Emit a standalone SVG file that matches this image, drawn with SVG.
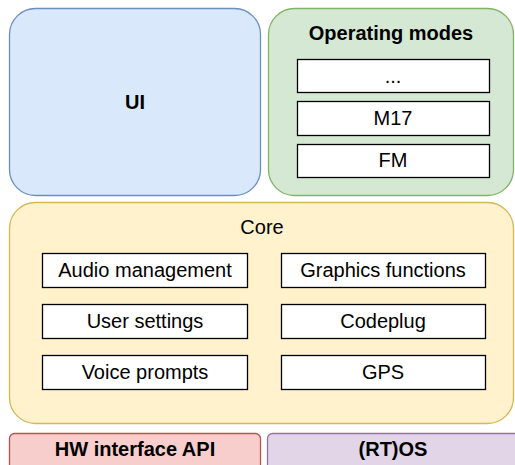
<svg xmlns="http://www.w3.org/2000/svg" width="515" height="465" viewBox="0 0 515 465">
<style>
text{font-family:"Liberation Sans",Arial,sans-serif;font-size:20px;fill:#000;text-anchor:middle;dominant-baseline:central}
.b{font-weight:bold}
.inner{fill:#fff;stroke:#000;stroke-width:1.3}
</style>
<rect width="515" height="465" fill="#fff"/>
<g id="ui"><rect x="9.5" y="8.5" width="251" height="187" rx="26" fill="#dae8fc" stroke="#6c8ebf" stroke-width="1.3"/><text class="b" x="135" y="102">UI</text></g>
<g id="opmodes"><rect x="268.5" y="8.5" width="245" height="187" rx="26" fill="#d5e8d4" stroke="#82b366" stroke-width="1.3"/><text class="b" x="391" y="33">Operating modes</text></g>
<g id="m-dots"><rect class="inner" x="297.5" y="59.5" width="192" height="33"/><text x="393" y="76">...</text></g>
<g id="m17"><rect class="inner" x="297.5" y="101.5" width="192" height="34"/><text x="393" y="118">M17</text></g>
<g id="fm"><rect class="inner" x="297.5" y="144.5" width="192" height="33"/><text x="393" y="160">FM</text></g>
<g id="core"><rect x="9.5" y="202.5" width="504" height="221" rx="26" fill="#fff2cc" stroke="#d6b656" stroke-width="1.3"/><text x="262" y="227">Core</text></g>
<g id="audio"><rect class="inner" x="42.5" y="253.5" width="205" height="34"/><text x="145" y="270">Audio management</text></g>
<g id="graphics"><rect class="inner" x="281.5" y="253.5" width="204" height="34"/><text x="383" y="270">Graphics functions</text></g>
<g id="settings"><rect class="inner" x="42.5" y="304.5" width="205" height="34"/><text x="145" y="321">User settings</text></g>
<g id="codeplug"><rect class="inner" x="281.5" y="304.5" width="204" height="34"/><text x="383" y="321">Codeplug</text></g>
<g id="voice"><rect class="inner" x="42.5" y="355.5" width="205" height="34"/><text x="145" y="372">Voice prompts</text></g>
<g id="gps"><rect class="inner" x="281.5" y="355.5" width="204" height="34"/><text x="383" y="372">GPS</text></g>
<g id="hw"><rect x="9.5" y="433.5" width="251" height="50" rx="5" fill="#f8cecc" stroke="#b85450" stroke-width="1.3"/><text class="b" x="135" y="449">HW interface API</text></g>
<g id="rtos"><rect x="267.5" y="433.5" width="260" height="50" rx="5" fill="#e1d5e7" stroke="#9673a6" stroke-width="1.3"/><text class="b" x="393" y="449">(RT)OS</text></g>
<g id="connectors"></g>
</svg>
